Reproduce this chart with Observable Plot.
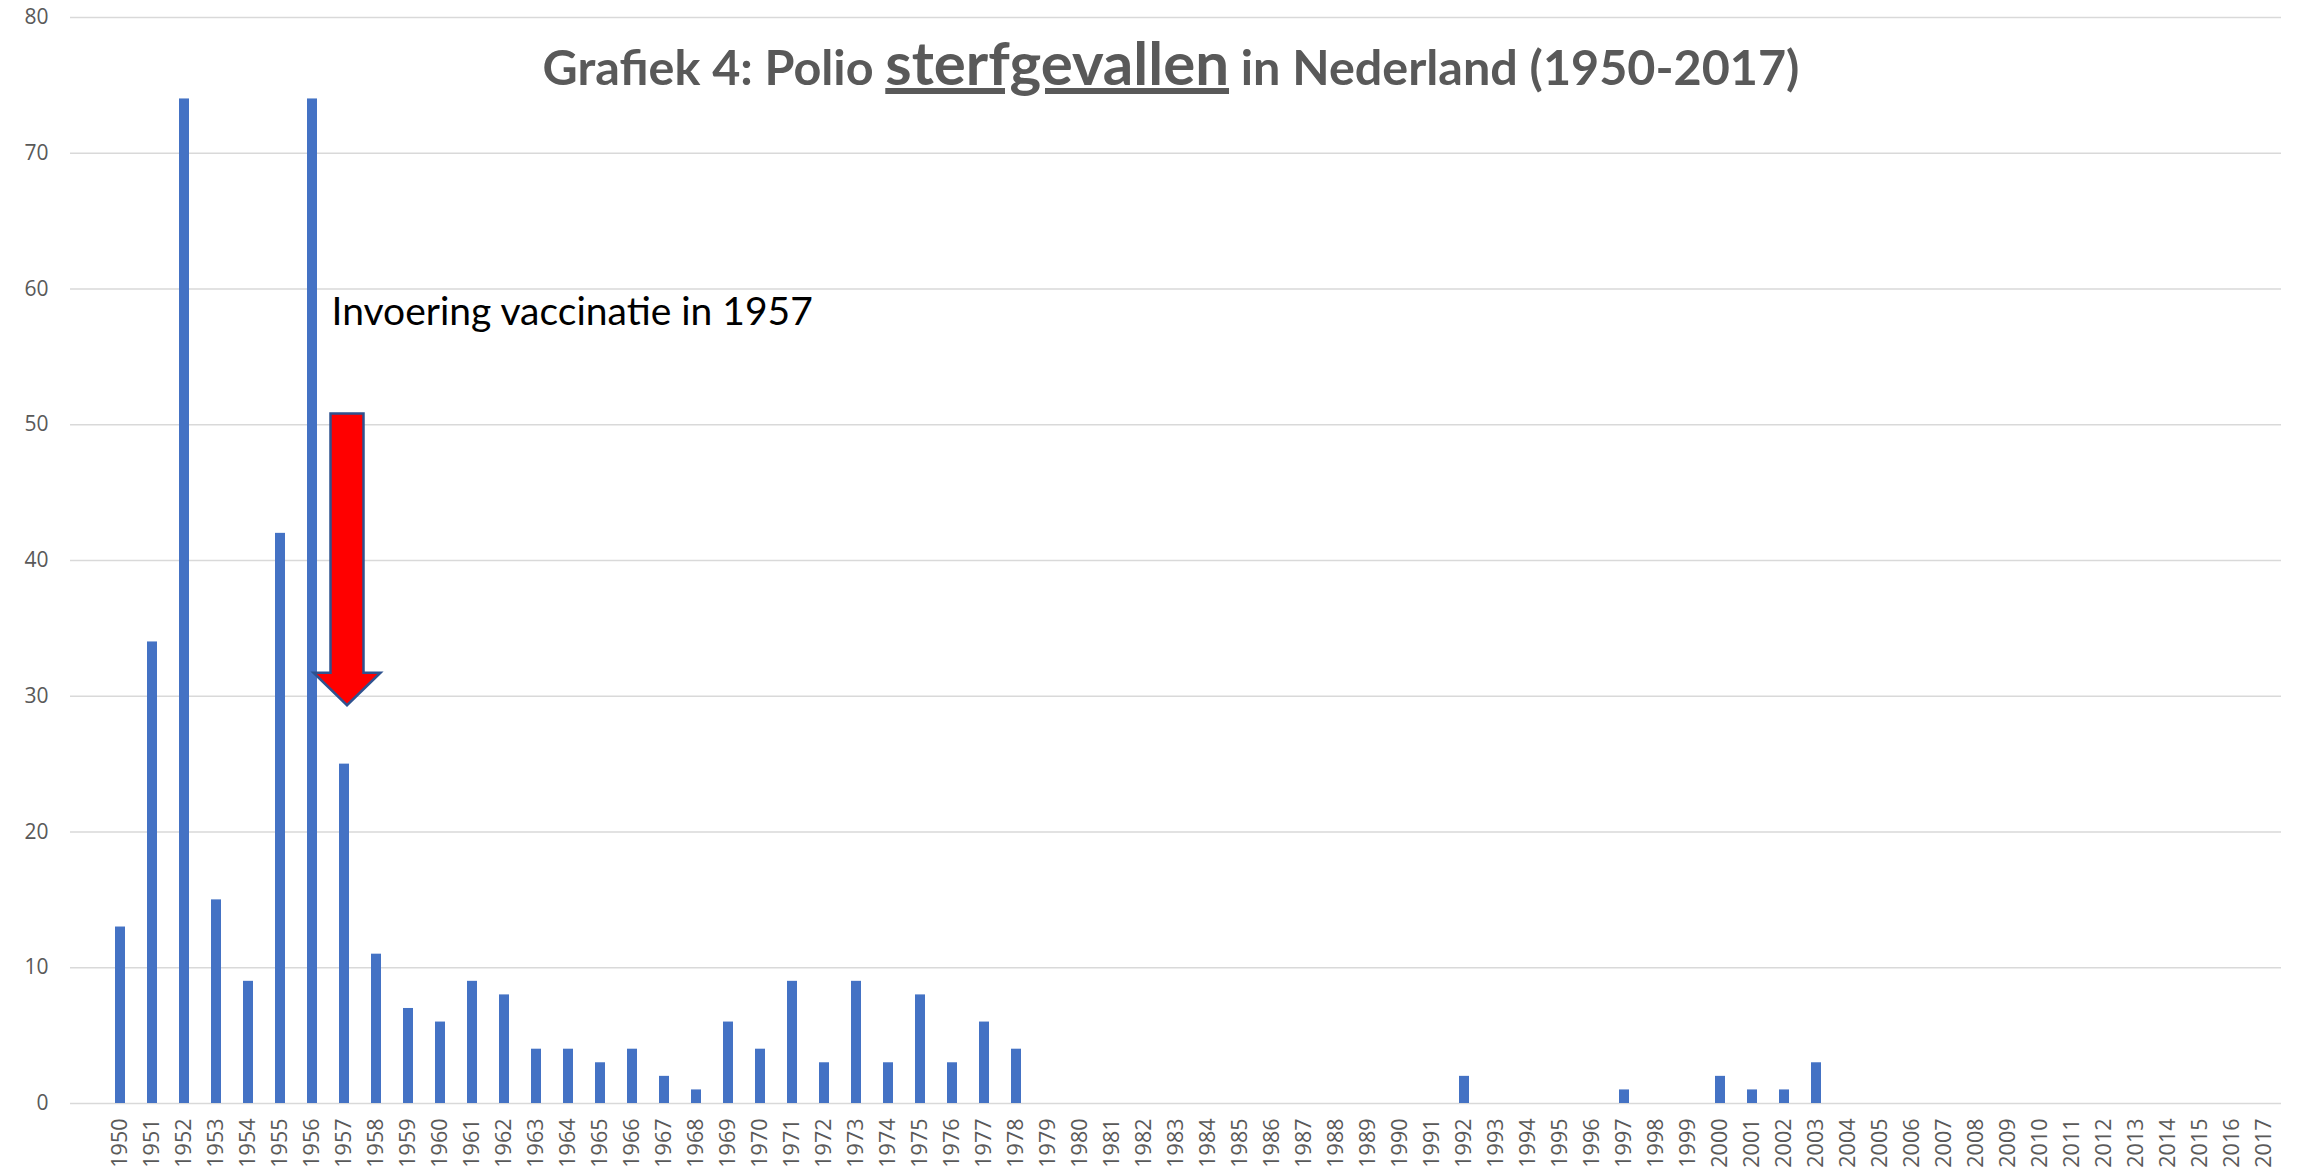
<!DOCTYPE html>
<html>
<head>
<meta charset="utf-8">
<script src="https://cdn.jsdelivr.net/npm/d3@7"></script>
<script src="https://cdn.jsdelivr.net/npm/@observablehq/plot@0.6"></script>
<style>
  html, body { margin: 0; padding: 0; background: #ffffff; }
  #wrap { position: relative; width: 2301px; height: 1172px; overflow: hidden; }
  #title { position: absolute; left: 0; top: 0; pointer-events: none; }
</style>
</head>
<body>
<div id="wrap"></div>
<script>
// ---- data ----
const years = d3.range(1950, 2018).map(String);
const deaths = [
  13, 34, 74, 15, 9, 42, 74, 25, 11, 7,   // 1950-1959
  6, 9, 8, 4, 4, 3, 4, 2, 1, 6,           // 1960-1969
  4, 9, 3, 9, 3, 8, 3, 6, 4, 0,           // 1970-1979
  0, 0, 0, 0, 0, 0, 0, 0, 0, 0,           // 1980-1989
  0, 0, 2, 0, 0, 0, 0, 1, 0, 0,           // 1990-1999
  2, 1, 1, 3, 0, 0, 0, 0, 0, 0,           // 2000-2009
  0, 0, 0, 0, 0, 0, 0, 0                  // 2010-2017
];
const yTicks = [0, 10, 20, 30, 40, 50, 60, 70, 80];
const titleParts = ["Grafiek 4: Polio ", "sterfgevallen", " in Nederland (1950-2017)"];
const annotationText = ["Invoering vaccinatie in 1957"];
const annotationYear = ["1957"];
const annotationValue = [58.3];
const arrowYear = ["1957"];
const arrowTop = [50.8];
const arrowHeadBase = [31.7];
const arrowTip = [29.3];

const table = years.map((y, i) => ({year: y, value: deaths[i]}));
const annotations = annotationText.map((t, i) => ({text: t, year: annotationYear[i], value: annotationValue[i]}));
const arrows = arrowYear.map((y, i) => ({year: y, top: arrowTop[i], base: arrowHeadBase[i], tip: arrowTip[i]}));

const W = 2301, H = 1172;
const gray = "#595959";

function arrowMark(index, scales) {
  const g = d3.create("svg:g");
  const bw = scales.x.bandwidth ? scales.x.bandwidth() : 0;
  for (const a of arrows) {
    const cx = scales.x(a.year) + bw / 2 + 3;
    const yTop = scales.y(a.top), yBase = scales.y(a.base), yTip = scales.y(a.tip);
    const sw = 16.5, hw = 33.5;
    const p = [
      [cx - sw, yTop], [cx + sw, yTop], [cx + sw, yBase], [cx + hw, yBase],
      [cx, yTip], [cx - hw, yBase], [cx - sw, yBase]
    ];
    g.append("path")
      .attr("d", "M" + p.map(q => q.join(",")).join("L") + "Z")
      .attr("fill", "#ff0000")
      .attr("stroke", "#2f528f")
      .attr("stroke-width", 2.5)
      .attr("stroke-linejoin", "miter");
  }
  return g.node();
}

const chart = Plot.plot({
  width: W,
  height: H,
  marginLeft: 70,
  marginRight: 20,
  marginTop: 17,
  marginBottom: 69,
  style: {background: "#ffffff", fontFamily: "'Open Sans', sans-serif", color: gray, overflow: "visible"},
  x: {domain: years, range: [102, 2281], paddingInner: 0.69, paddingOuter: 0.345, label: null},
  y: {domain: [0, 80], label: null},
  marks: [
    Plot.ruleY(yTicks, {stroke: "#d9d9d9", strokeWidth: 1.6}),
    Plot.barY(table, {x: "year", y: "value", fill: "#4472c4"}),
    Plot.axisY({ticks: yTicks, tickSize: 0, tickPadding: 22, fontSize: 21, fill: gray, label: null}),
    Plot.axisX({tickSize: 0, tickPadding: 15, tickRotate: -90, fontSize: 21.5, fill: gray, label: null}),
    arrowMark,
    Plot.text(annotations, {x: "year", y: "value", text: "text", textAnchor: "start", dx: -13,
      fontSize: 39, fontFamily: "Lato, 'Open Sans', sans-serif", fill: "#000000"})
  ]
});

const wrap = document.getElementById("wrap");
wrap.appendChild(chart);

// title overlay
const svgT = d3.create("svg").attr("id", "title").attr("width", W).attr("height", 130);
const t = svgT.append("text")
  .attr("x", 1171).attr("y", 85)
  .attr("text-anchor", "middle")
  .attr("fill", gray)
  .style("font-family", "Lato, 'Open Sans', sans-serif")
  .style("font-weight", "700")
  .style("font-size", "48.5px");
t.append("tspan").text(titleParts[0]);
t.append("tspan").text(titleParts[1]).style("font-size", "60px")
  .style("text-decoration", "underline").style("text-decoration-thickness", "5px");
t.append("tspan").text(titleParts[2]);
wrap.appendChild(svgT.node());
</script>
</body>
</html>
